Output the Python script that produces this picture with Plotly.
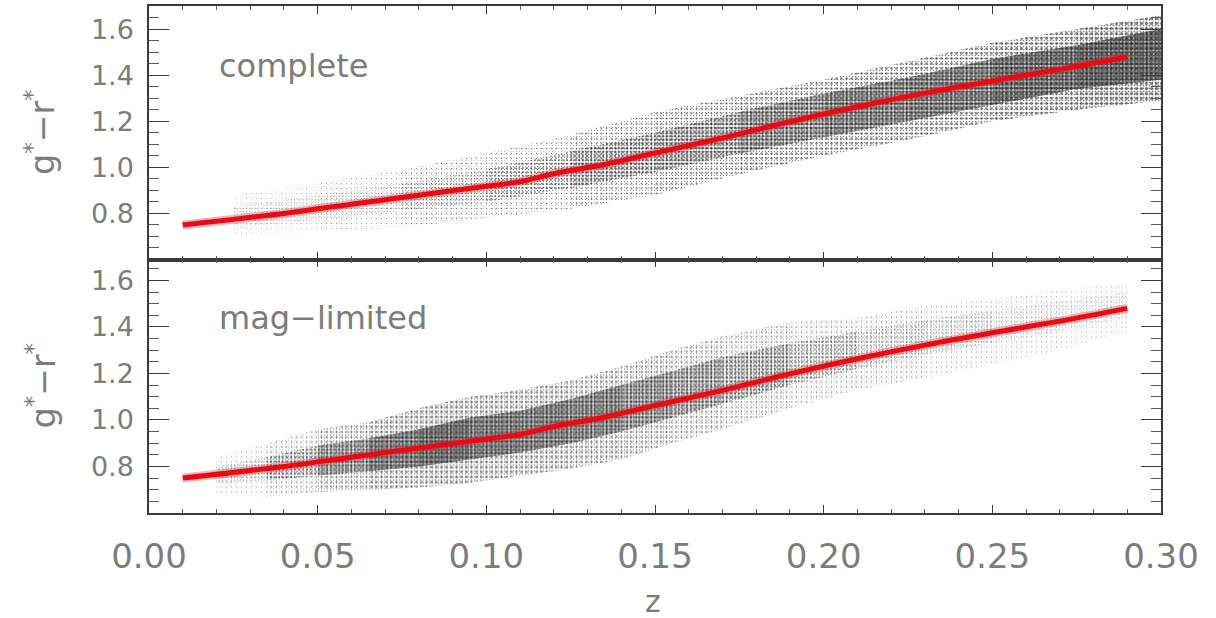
import plotly.graph_objects as go

# ---------------- data ----------------
# red fit curve (same in both panels)
fit_z = [0.01, 0.04, 0.06, 0.08, 0.10, 0.11, 0.12, 0.135, 0.15, 0.17, 0.19, 0.21, 0.23, 0.25, 0.27, 0.29]
fit_c = [0.750, 0.800, 0.840, 0.879, 0.918, 0.938, 0.972, 1.012, 1.062, 1.127, 1.198, 1.263, 1.322, 1.375, 1.425, 1.480]

# "complete" sample: envelope of the point cloud and its dense core, with relative density
comp_z       = [0.025, 0.05, 0.075, 0.10, 0.125, 0.15, 0.175, 0.20, 0.225, 0.25, 0.275, 0.30]
comp_lo      = [0.71, 0.72, 0.74, 0.78, 0.82, 0.88, 0.97, 1.05, 1.12, 1.20, 1.25, 1.29]
comp_hi      = [0.88, 0.93, 0.99, 1.06, 1.14, 1.24, 1.31, 1.38, 1.46, 1.54, 1.60, 1.66]
comp_core_lo = [0.74, 0.77, 0.81, 0.85, 0.91, 0.98, 1.06, 1.13, 1.20, 1.27, 1.34, 1.38]
comp_core_hi = [0.83, 0.88, 0.93, 0.99, 1.07, 1.15, 1.24, 1.32, 1.39, 1.47, 1.53, 1.60]
comp_core_d  = [0.04, 0.06, 0.09, 0.14, 0.22, 0.32, 0.42, 0.50, 0.56, 0.62, 0.70, 0.78]
comp_out_d   = [0.02, 0.03, 0.04, 0.06, 0.09, 0.13, 0.16, 0.19, 0.22, 0.25, 0.28, 0.32]

# "mag-limited" sample
mag_z       = [0.02, 0.035, 0.05, 0.065, 0.08, 0.095, 0.11, 0.125, 0.14, 0.155, 0.17, 0.19, 0.21, 0.23, 0.25, 0.27, 0.29]
mag_lo      = [0.68, 0.67, 0.69, 0.70, 0.71, 0.73, 0.76, 0.79, 0.83, 0.90, 0.96, 1.05, 1.13, 1.18, 1.24, 1.30, 1.38]
mag_hi      = [0.84, 0.90, 0.96, 0.99, 1.05, 1.10, 1.13, 1.17, 1.23, 1.30, 1.36, 1.42, 1.44, 1.49, 1.52, 1.56, 1.59]
mag_core_lo = [0.73, 0.74, 0.76, 0.78, 0.80, 0.83, 0.86, 0.90, 0.95, 1.01, 1.07, 1.15, 1.22, 1.28, 1.33, 1.38, 1.44]
mag_core_hi = [0.80, 0.84, 0.89, 0.92, 0.96, 1.01, 1.04, 1.09, 1.15, 1.21, 1.27, 1.33, 1.38, 1.43, 1.47, 1.51, 1.55]
mag_core_d  = [0.05, 0.15, 0.35, 0.55, 0.70, 0.68, 0.62, 0.56, 0.50, 0.42, 0.33, 0.22, 0.14, 0.10, 0.08, 0.06, 0.05]
mag_out_d   = [0.02, 0.05, 0.12, 0.18, 0.24, 0.22, 0.20, 0.18, 0.16, 0.14, 0.11, 0.08, 0.06, 0.05, 0.04, 0.03, 0.03]

panel_labels = ["complete", "mag\u2212limited"]
y_ticks = [0.8, 1.0, 1.2, 1.4, 1.6]
x_ticks = [0.00, 0.05, 0.10, 0.15, 0.20, 0.25, 0.30]

# ---------------- figure ----------------
fig = go.Figure()
GREY = "#7c7c7c"
FONT = "DejaVu Sans"


def band_segments(z, lo, hi, dens, xa, ya, size):
    for i in range(len(z) - 1):
        d = (dens[i] + dens[i + 1]) / 2
        fig.add_trace(go.Scatter(
            x=[z[i], z[i + 1], z[i + 1], z[i], z[i]],
            y=[lo[i], lo[i + 1], hi[i + 1], hi[i], lo[i]],
            mode="lines", line=dict(width=0), fill="toself",
            fillcolor="rgba(0,0,0,0)",
            fillpattern=dict(shape=".", size=size, solidity=d,
                             fgcolor="#111111", bgcolor="rgba(255,255,255,0)"),
            hoverinfo="skip", showlegend=False, xaxis=xa, yaxis=ya))


def cloud(z, lo, hi, clo, chi, cd, od, xa, ya):
    # outer sparse parts (below and above the core)
    band_segments(z, lo, clo, od, xa, ya, 3)
    band_segments(z, chi, hi, od, xa, ya, 3)
    # dense core, two interleaved grids
    band_segments(z, clo, chi, cd, xa, ya, 3)
    band_segments(z, clo, chi, cd, xa, ya, 4)
    # extra speckle over whole cloud
    band_segments(z, lo, hi, od, xa, ya, 5)


cloud(comp_z, comp_lo, comp_hi, comp_core_lo, comp_core_hi, comp_core_d, comp_out_d, "x", "y")
cloud(mag_z, mag_lo, mag_hi, mag_core_lo, mag_core_hi, mag_core_d, mag_out_d, "x2", "y2")

for xa, ya in (("x", "y"), ("x2", "y2")):
    fig.add_trace(go.Scatter(x=fit_z, y=fit_c, mode="lines",
                             line=dict(color="rgba(235,40,40,0.35)", width=9, shape="spline"),
                             hoverinfo="skip", showlegend=False, xaxis=xa, yaxis=ya))
    fig.add_trace(go.Scatter(x=fit_z, y=fit_c, mode="lines",
                             line=dict(color="#dc101a", width=5, shape="spline"),
                             hoverinfo="skip", showlegend=False, xaxis=xa, yaxis=ya))

common_x = dict(range=[0, 0.30], showgrid=False, zeroline=False, showline=True,
                linecolor="#3a3a3a", linewidth=1.5, mirror="allticks",
                ticks="inside", tickmode="array", tickvals=x_ticks, ticklen=8,
                tickcolor="#3a3a3a", tickwidth=1,
                minor=dict(tickmode="linear", tick0=0, dtick=0.01, ticks="inside",
                           ticklen=4, tickcolor="#5a5a5a", tickwidth=1))
common_y = dict(showgrid=False, zeroline=False, showline=True,
                linecolor="#3a3a3a", linewidth=1.5, mirror="allticks",
                ticks="inside", tickmode="array", tickvals=y_ticks,
                ticktext=[f"{v:.1f}" for v in y_ticks], ticklen=20,
                tickcolor="#3a3a3a", tickwidth=1,
                tickfont=dict(family=FONT, size=27, color=GREY), ticklabelstandoff=8,
                minor=dict(tickmode="linear", tick0=0.6, dtick=0.05, ticks="inside",
                           ticklen=10, tickcolor="#5a5a5a", tickwidth=1))

fig.update_layout(
    width=1216, height=618,
    margin=dict(l=149, r=55, t=4, b=105),
    paper_bgcolor="white", plot_bgcolor="white",
    showlegend=False,
    xaxis=dict(common_x, anchor="y", showticklabels=False),
    xaxis2=dict(common_x, anchor="y2", showticklabels=True,
                ticktext=[f"{v:.2f}" for v in x_ticks],
                tickfont=dict(family=FONT, size=34, color=GREY), ticklabelstandoff=12),
    yaxis=dict(common_y, domain=[0.5, 1.0], range=[0.6, 1.70], anchor="x"),
    yaxis2=dict(common_y, domain=[0.0, 0.5], range=[0.6, 1.69], anchor="x2"),
)

annos = []
for lab, yref in zip(panel_labels, ("y", "y2")):
    annos.append(dict(text=lab, x=0.0202, y=1.44, xref="x", yref=yref,
                      xanchor="left", yanchor="middle", showarrow=False,
                      font=dict(family=FONT, size=32, color=GREY)))
for dom in ((0.5, 1.0), (0.0, 0.5)):
    annos.append(dict(text="g<sup>*</sup>\u2212r<sup>*</sup>", x=0, xref="paper",
                      y=(dom[0] + dom[1]) / 2, yref="paper", xshift=-108,
                      xanchor="center", yanchor="middle", textangle=-90, showarrow=False,
                      font=dict(family=FONT, size=33, color=GREY)))
annos.append(dict(text="z", x=0.1495, xref="x2", y=0, yref="paper", yshift=-88,
                  xanchor="center", yanchor="middle", showarrow=False,
                  font=dict(family=FONT, size=30, color=GREY)))
fig.update_layout(annotations=annos)

fig.write_html("out.html")
